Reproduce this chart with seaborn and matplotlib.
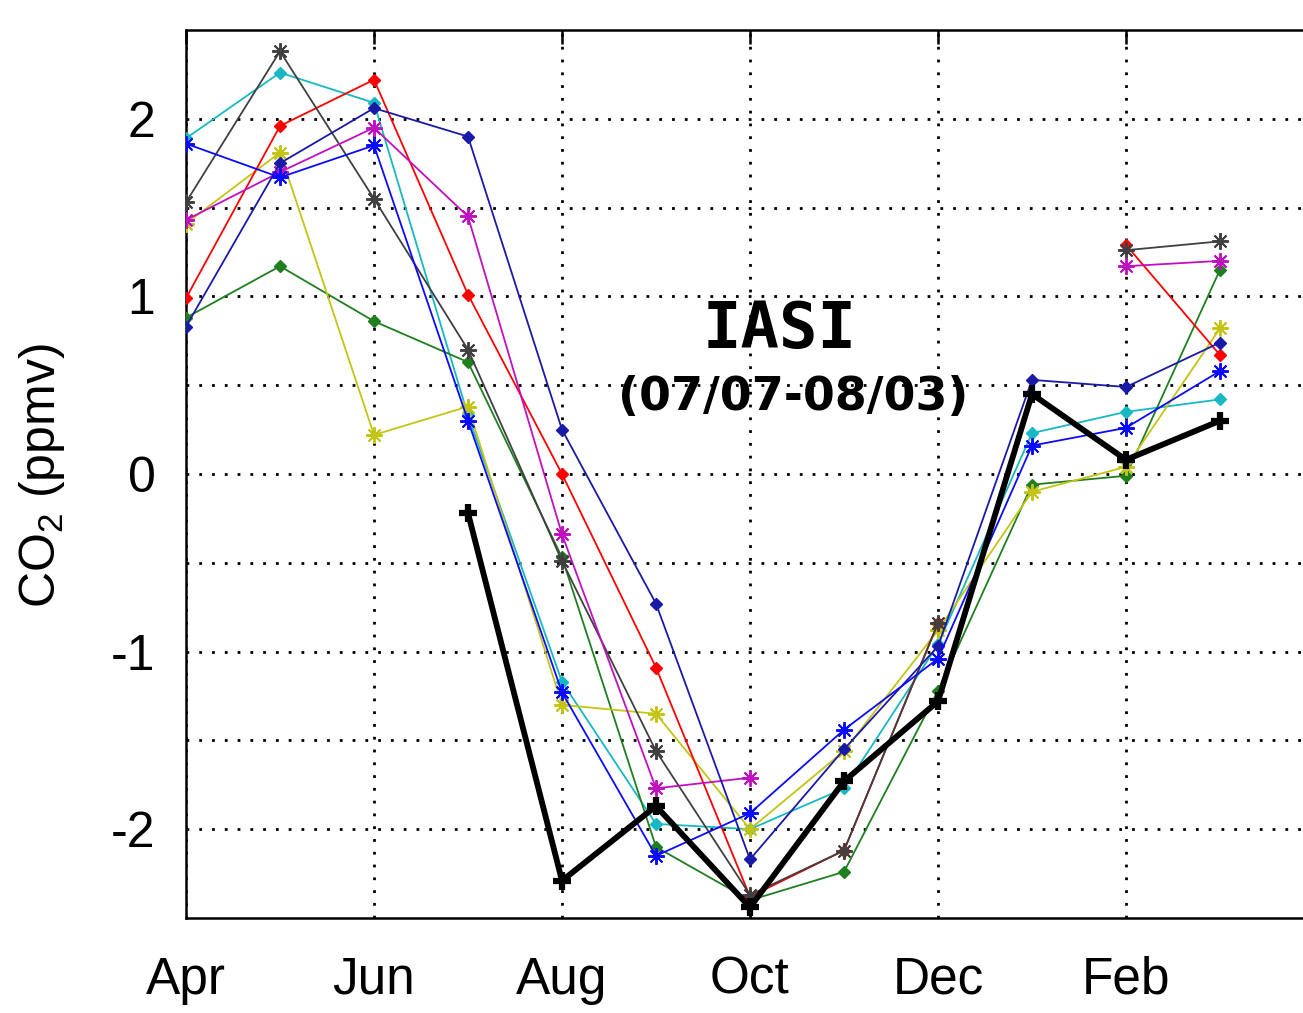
import numpy as np
import pandas as pd
import matplotlib
matplotlib.use("Agg")
import matplotlib.pyplot as plt
import seaborn as sns

# Monthly CO2 anomalies (ppmv), April through March
months = ["Apr", "May", "Jun", "Jul", "Aug", "Sep", "Oct", "Nov", "Dec", "Jan", "Feb", "Mar"]
tick_labels = ["Apr", "Jun", "Aug", "Oct", "Dec", "Feb"]
nan = np.nan

navy = [0.83, 1.75, 2.06, 1.90, 0.25, -0.73, -2.17, -1.55, -0.97, 0.53, 0.49, 0.74]
blue = [1.86, 1.67, 1.85, 0.30, -1.23, -2.15, -1.91, -1.44, -1.04, 0.16, 0.26, 0.58]
cyan = [1.89, 2.26, 2.09, 0.33, -1.17, -1.97, -2.00, -1.77, -0.96, 0.23, 0.35, 0.42]
red = [0.99, 1.96, 2.22, 1.01, 0.00, -1.09, -2.38, -2.12, -0.84, nan, 1.29, 0.67]
magenta = [1.43, 1.70, 1.95, 1.45, -0.34, -1.77, -1.71, nan, nan, nan, 1.17, 1.20]
yellow = [1.41, 1.81, 0.22, 0.38, -1.30, -1.35, -2.00, -1.56, -0.88, -0.10, 0.04, 0.82]
green = [0.88, 1.17, 0.86, 0.63, -0.47, -2.10, -2.40, -2.24, -1.22, -0.06, -0.01, 1.15]
darkgray = [1.53, 2.38, 1.55, 0.70, -0.49, -1.56, -2.37, -2.12, -0.84, nan, 1.26, 1.31]
iasi = [nan, nan, nan, -0.22, -2.29, -1.87, -2.44, -1.73, -1.28, 0.45, 0.08, 0.30]

ASTER = (8, 2, 0)
styles = [
    (cyan, "#17b8c4", "D", 6, 1.0, 1.3),
    (green, "#1f7f1f", "D", 6, 1.0, 1.3),
    (yellow, "#c4c414", ASTER, 12, 1.4, 1.3),
    (red, "#ff0000", "D", 6, 1.0, 1.3),
    (darkgray, "#404040", ASTER, 12, 1.4, 1.3),
    (magenta, "#c010c0", ASTER, 12, 1.4, 1.3),
    (navy, "#1a1aa8", "D", 6, 1.0, 1.3),
    (blue, "#0a0aff", ASTER, 12, 1.4, 1.3),
]

sns.set_theme(style="white")
plt.rcParams["font.family"] = ["Liberation Sans", "DejaVu Sans"]
plt.rcParams["mathtext.fontset"] = "custom"
plt.rcParams["mathtext.rm"] = "Liberation Sans"
plt.rcParams["mathtext.it"] = "Liberation Sans"

fig = plt.figure(figsize=(13.03, 10.13), dpi=100)
ax = fig.add_axes([186 / 1303, 1 - 918 / 1013, 1128 / 1303, 888 / 1013])

idx = np.arange(len(months))


def draw(values, color, marker, ms, mew, lw, z):
    df = pd.DataFrame({"month": idx, "co2": values})
    df["run"] = df["co2"].isna().cumsum()
    df = df.dropna()
    for _, seg in df.groupby("run"):
        sns.lineplot(data=seg, x="month", y="co2", ax=ax, color=color,
                     linewidth=lw, marker=marker, markersize=ms,
                     markeredgewidth=mew, markeredgecolor=color,
                     markerfacecolor=color, estimator=None, errorbar=None,
                     sort=False, zorder=z)


for k, (vals, col, mk, ms, mew, lw) in enumerate(styles):
    draw(vals, col, mk, ms, mew, lw, 3 + k * 0.1)
draw(iasi, "black", "+", 13, 4.5, 4.2, 5)

ax.set_xlim(0, 12)
ax.set_ylim(-2.5, 2.5)
ax.set_xticks(np.arange(0, 12, 2))
ax.set_xticklabels(tick_labels)
ax.set_yticks([-2, -1, 0, 1, 2])
ax.set_yticklabels(["-2", "-1", "0", "1", "2"])
ax.set_yticks(np.arange(-2, 2.01, 0.5), minor=True)
ax.set_xlabel("")
ax.set_ylabel("")

dots = (0, (1, 3.6))
ax.grid(True, which="both", axis="y", color="black", linestyle=dots, linewidth=2.0)
ax.grid(True, which="major", axis="x", color="black", linestyle=dots, linewidth=2.0)
ax.set_axisbelow(True)

ax.tick_params(axis="both", which="both", direction="in", length=10, width=1.8,
               color="black", top=True, right=False)
ax.tick_params(axis="x", labelsize=37, pad=27, labelcolor="black")
ax.tick_params(axis="y", labelsize=36, pad=22, labelcolor="black")

for side in ["left", "bottom", "top", "right"]:
    ax.spines[side].set_color("black")
    ax.spines[side].set_linewidth(1.8)

fig.text(42 / 1303, 1 - 476 / 1013, "CO$_2$ (ppmv)", rotation=90,
         ha="center", va="center", fontsize=36, color="black")

ax.text(6.31, 0.81, "IASI", ha="center", va="center", fontsize=46,
        fontweight="bold", family="DejaVu Sans Mono", color="black", zorder=6)
ax.text(6.46, 0.43, "(07/07-08/03)", ha="center", va="center", fontsize=33,
        fontweight="bold", family="DejaVu Sans", color="black", zorder=6)

fig.savefig("out.png", dpi=100, facecolor="white")
